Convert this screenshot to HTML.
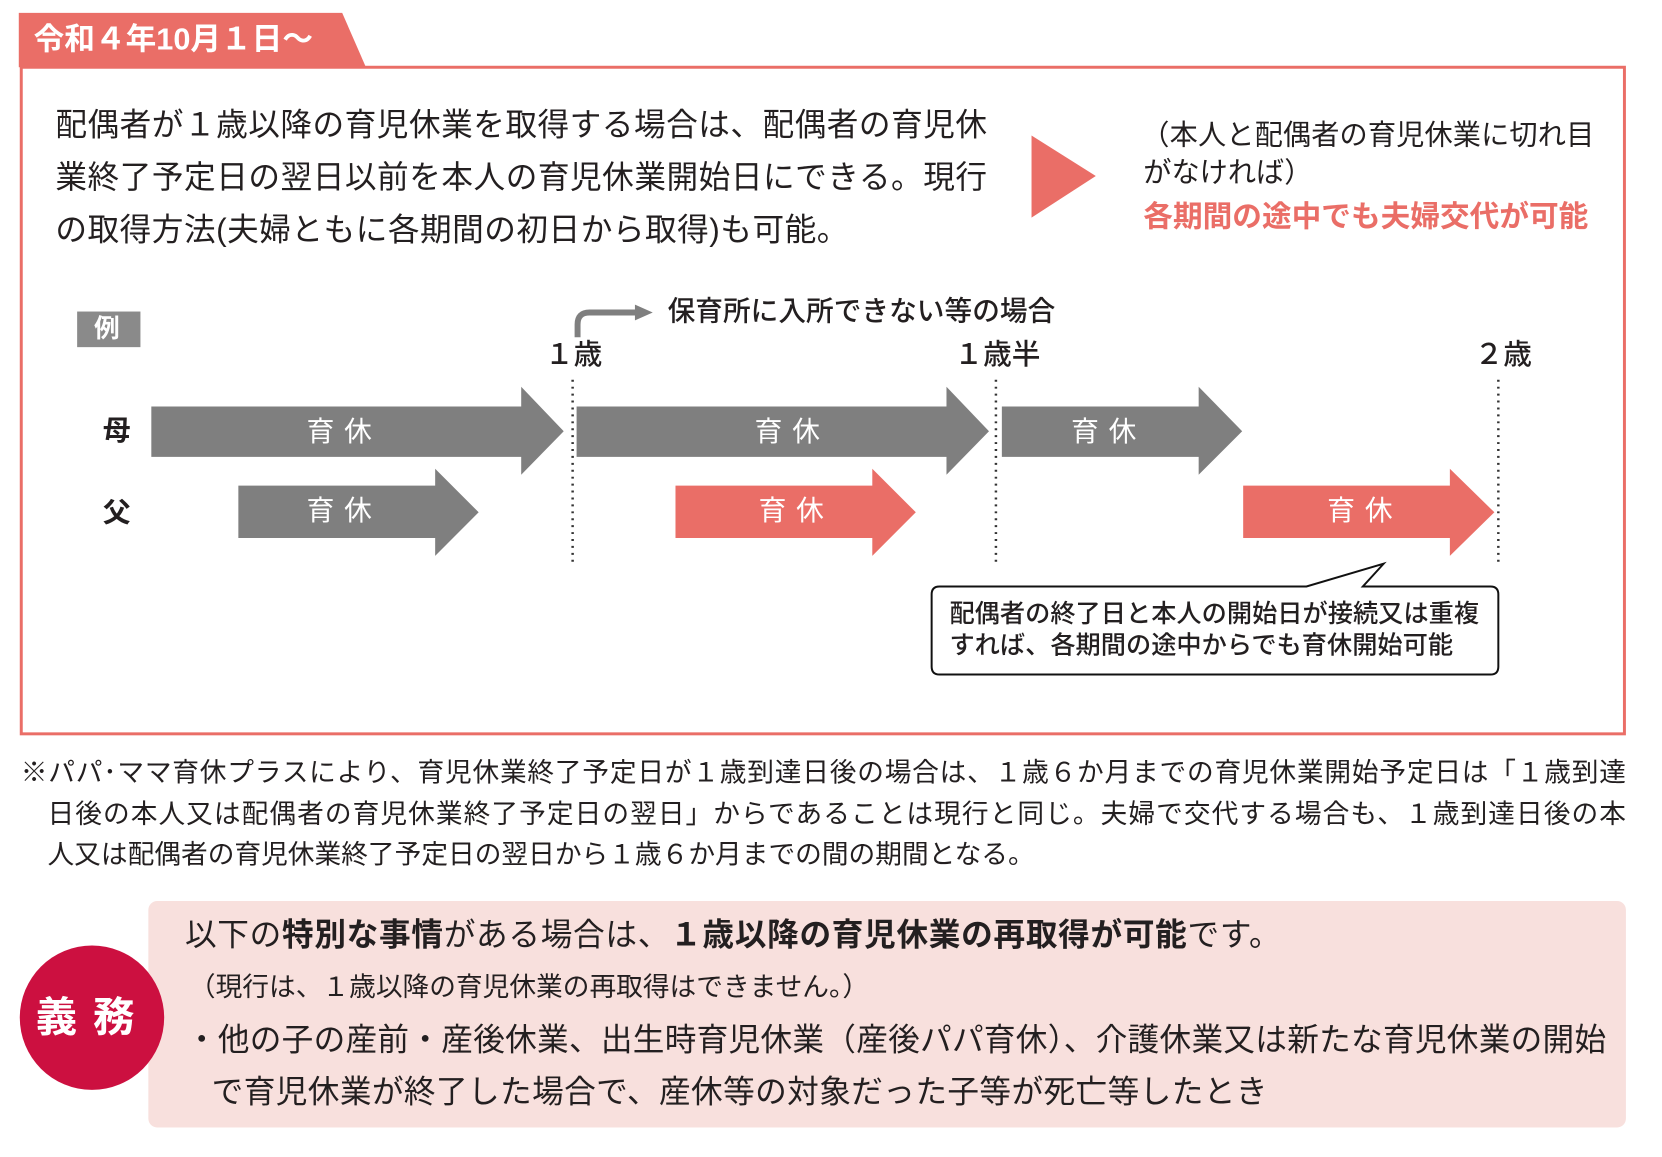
<!DOCTYPE html>
<html><head><meta charset="utf-8">
<style>
*{margin:0;padding:0;box-sizing:border-box}
body{width:1662px;height:1157px;background:#fff;position:relative;overflow:hidden;font-family:"Liberation Sans","Noto Sans CJK JP",sans-serif;color:#231f20}
#w{position:absolute;left:0;top:0;width:1662px;height:1157px;transform:scale(0.989);transform-origin:0 0}
.t{position:absolute;white-space:nowrap;line-height:1}
.j{position:absolute;white-space:nowrap;line-height:1;text-align:justify;text-align-last:justify}
svg{position:absolute;left:0;top:0}
</style></head><body><div id="w">
<svg width="1662" height="1157">
 <polygon points="19,13 346,13 370,68 19,68" fill="#ea6e67"/>
 <rect x="21.5" y="68" width="1621" height="674" fill="none" stroke="#ea6e67" stroke-width="3"/>
 <polygon points="1043,137 1108,178 1043,220" fill="#ea6e67"/>
 <rect x="78" y="315" width="64" height="36" fill="#8a8a8a"/>
 <path d="M584,341 V328 Q584,316 596,316 H645" fill="none" stroke="#7f7f7f" stroke-width="6"/>
 <polygon points="642,308 660,316 642,324" fill="#7f7f7f"/>
 <g stroke="#333" stroke-width="2.5" stroke-dasharray="2,5">
  <line x1="579" y1="384" x2="579" y2="568"/>
  <line x1="1007" y1="384" x2="1007" y2="568"/>
  <line x1="1515" y1="384" x2="1515" y2="568"/>
 </g>
 <g fill="#7f7f7f">
  <polygon points="153,411 527,411 527,391 570,436 527,480 527,462 153,462"/>
  <polygon points="583,411 957,411 957,391 1000,436 957,480 957,462 583,462"/>
  <polygon points="1013,411 1212,411 1212,391 1256,436 1212,480 1212,462 1013,462"/>
  <polygon points="241,491 440,491 440,474 484,518 440,562 440,544 241,544"/>
 </g>
 <g fill="#ea6e67">
  <polygon points="683,491 882,491 882,474 926,518 882,562 882,544 683,544"/>
  <polygon points="1257,491 1466,491 1466,474 1511,518 1466,562 1466,544 1257,544"/>
 </g>
 <path d="M950,593 H1321 L1399,570 L1378,593 H1507 Q1515,593 1515,601 V674 Q1515,682 1507,682 H950 Q942,682 942,674 V601 Q942,593 950,593 Z" fill="#fff" stroke="#111" stroke-width="2"/>
 <rect x="150" y="911" width="1494" height="229" rx="9" fill="#f8e0dd"/>
 <circle cx="93" cy="1029" r="73" fill="#cc1040"/>
</svg>

<div class="t" style="left:34px;top:24px;font-size:31px;font-weight:bold;color:#fff">令和４年10月１日～</div>

<div class="j" style="left:56px;top:110px;width:942px;font-size:32px">配偶者が１歳以降の育児休業を取得する場合は、配偶者の育児休</div>
<div class="j" style="left:56px;top:163px;width:942px;font-size:32px">業終了予定日の翌日以前を本人の育児休業開始日にできる。現行</div>
<div class="t" style="left:56px;top:216px;font-size:32px;letter-spacing:0.5px">の取得方法(夫婦ともに各期間の初日から取得)も可能。</div>

<div class="j" style="left:1154px;top:123px;width:458px;font-size:28.5px">（本人と配偶者の育児休業に切れ目</div>
<div class="t" style="left:1156px;top:161px;font-size:28.5px">がなければ）</div>
<div class="t" style="left:1156px;top:205px;font-size:30px;font-weight:bold;color:#ea6e67">各期間の途中でも夫婦交代が可能</div>

<div class="t" style="left:95px;top:319px;font-size:26px;font-weight:bold;color:#fff">例</div>
<div class="t" style="left:675px;top:301px;font-size:28px;font-weight:500">保育所に入所できない等の場合</div>
<div class="t" style="left:551px;top:345px;font-size:29px;font-weight:500">１歳</div>
<div class="t" style="left:965px;top:345px;font-size:29px;font-weight:500">１歳半</div>
<div class="t" style="left:1491px;top:345px;font-size:29px;font-weight:500">２歳</div>

<div class="t" style="left:104px;top:422px;font-size:28px;font-weight:bold">母</div>
<div class="t" style="left:104px;top:505px;font-size:28px;font-weight:bold">父</div>

<div class="t" style="left:310px;top:423px;font-size:28px;color:#fff;letter-spacing:10px">育休</div>
<div class="t" style="left:763px;top:423px;font-size:28px;color:#fff;letter-spacing:10px">育休</div>
<div class="t" style="left:1083px;top:423px;font-size:28px;color:#fff;letter-spacing:10px">育休</div>
<div class="t" style="left:310px;top:503px;font-size:28px;color:#fff;letter-spacing:10px">育休</div>
<div class="t" style="left:767px;top:503px;font-size:28px;color:#fff;letter-spacing:10px">育休</div>
<div class="t" style="left:1342px;top:503px;font-size:28px;color:#fff;letter-spacing:10px">育休</div>

<div class="t" style="left:960px;top:609px;font-size:25.5px;font-weight:500">配偶者の終了日と本人の開始日が接続又は重複</div>
<div class="t" style="left:960px;top:641px;font-size:25.5px;font-weight:500">すれば、各期間の途中からでも育休開始可能</div>

<div class="j" style="left:21px;top:768px;width:1623px;font-size:27px">※パパ･ママ育休プラスにより、育児休業終了予定日が１歳到達日後の場合は、１歳６か月までの育児休業開始予定日は「１歳到達</div>
<div class="j" style="left:48px;top:810px;width:1596px;font-size:27px">日後の本人又は配偶者の育児休業終了予定日の翌日」からであることは現行と同じ。夫婦で交代する場合も、１歳到達日後の本</div>
<div class="t" style="left:48px;top:851px;font-size:27px">人又は配偶者の育児休業終了予定日の翌日から１歳６か月までの間の期間となる。</div>

<div class="t" style="left:36px;top:1008px;font-size:42px;font-weight:bold;color:#fff;letter-spacing:16px">義務</div>

<div class="t" style="left:187px;top:929px;font-size:32px;letter-spacing:0.7px">以下の<b>特別な事情</b>がある場合は、<b>１歳以降の育児休業の再取得が可能</b>です。</div>
<div class="t" style="left:191px;top:985px;font-size:27px">（現行は、１歳以降の育児休業の再取得はできません。）</div>
<div class="j" style="left:188px;top:1035px;width:1436px;font-size:32px">・他の子の産前・産後休業、出生時育児休業（産後パパ育休）、介護休業又は新たな育児休業の開始</div>
<div class="t" style="left:214px;top:1088px;font-size:32px;letter-spacing:0.4px">で育児休業が終了した場合で、産休等の対象だった子等が死亡等したとき</div>
</div></body></html>
